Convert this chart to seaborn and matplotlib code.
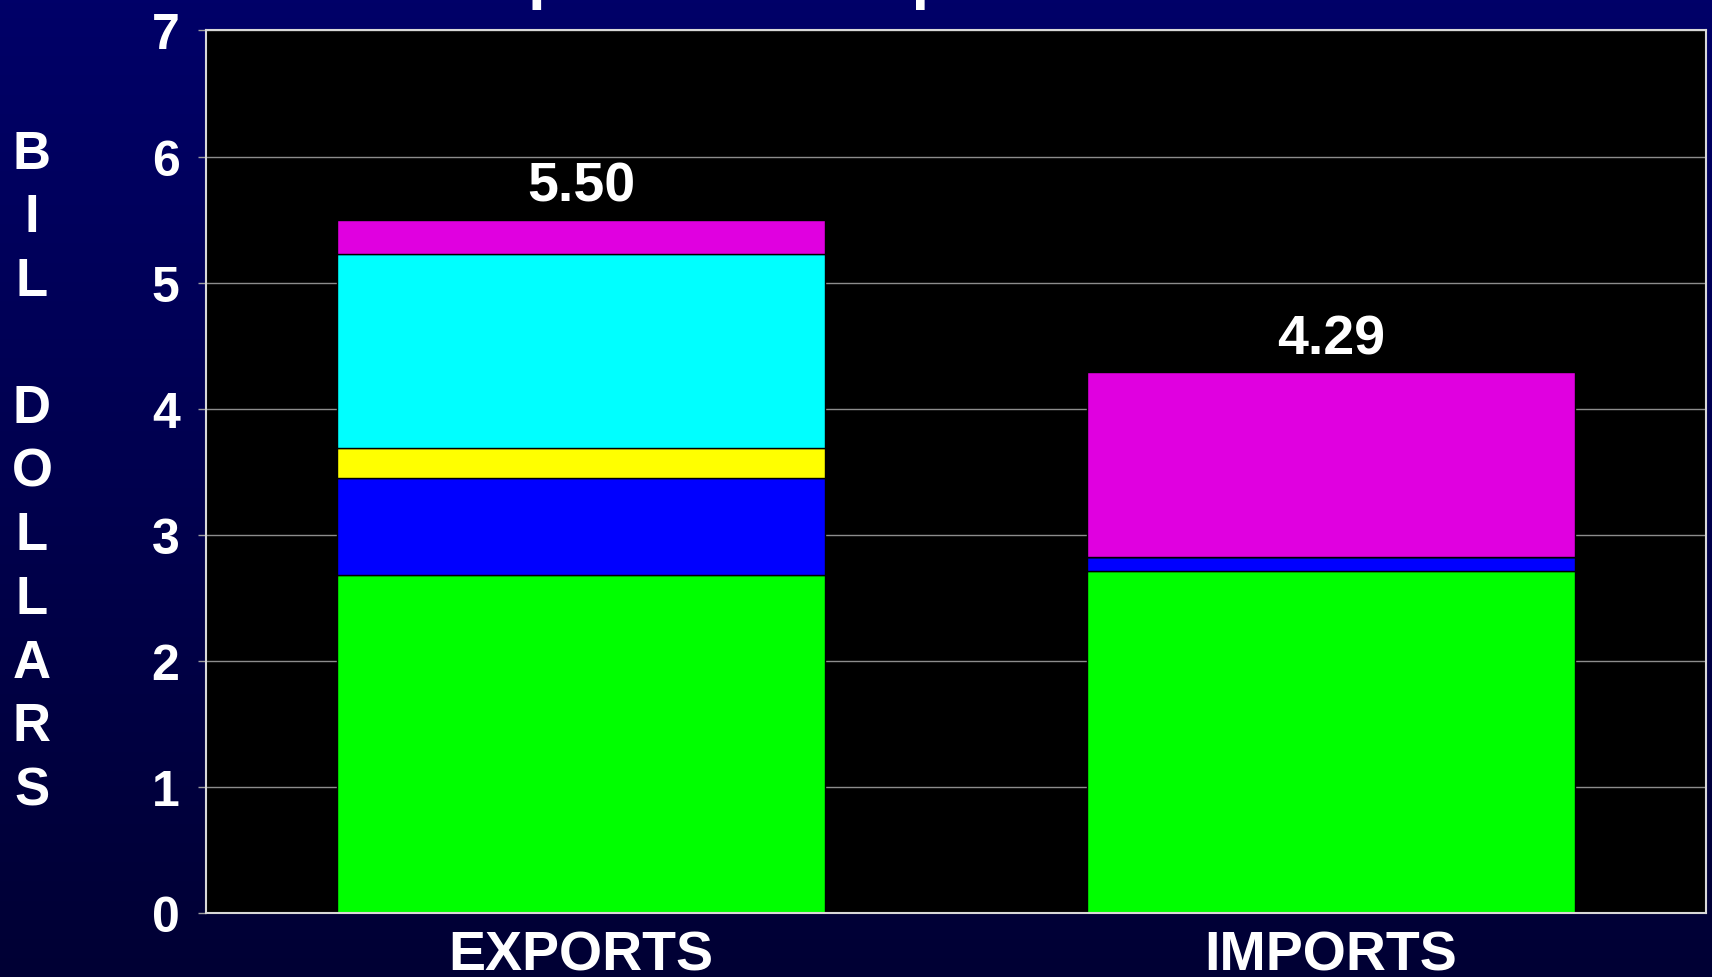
import matplotlib.pyplot as plt
import numpy as np
import seaborn as sns
from matplotlib.colors import LinearSegmentedColormap

categories = ["EXPORTS", "IMPORTS"]
green_vals = [2.68, 2.71]
blue_vals = [0.77, 0.11]
yellow_vals = [0.24, 0.00]
cyan_vals = [1.54, 0.00]
magenta_vals = [0.27, 1.47]

# stack order bottom -> top
layers = [
    (green_vals, "#00ff00"),
    (blue_vals, "#0000ff"),
    (yellow_vals, "#ffff00"),
    (cyan_vals, "#00ffff"),
    (magenta_vals, "#e000e0"),
]

sns.set_style("dark")
plt.rcParams["font.family"] = ["Liberation Sans", "DejaVu Sans"]
plt.rcParams["font.weight"] = "bold"
plt.rcParams["axes.labelweight"] = "bold"

fig = plt.figure(figsize=(17.12, 9.78), dpi=100)

# navy gradient slide background
bg = fig.add_axes([0, 0, 1, 1], zorder=0)
grad = np.linspace(0, 1, 256).reshape(-1, 1)
cmap = LinearSegmentedColormap.from_list("bg", ["#000068", "#000034"])
bg.imshow(grad, aspect="auto", cmap=cmap, extent=[0, 1, 0, 1])
bg.axis("off")

ax = fig.add_axes([0.1203, 0.0654, 0.8762, 0.9024], zorder=1)
ax.set_facecolor("black")

bottom = np.zeros(len(categories))
for vals, color in layers:
    sns.barplot(x=categories, y=vals, bottom=bottom.copy(), color=color,
                saturation=1, width=0.65, edgecolor="black", linewidth=1, ax=ax)
    bottom += np.array(vals)

# totals on top of each stack
for i, total in enumerate(bottom):
    ax.text(i, total + 0.15, f"{total:.2f}", ha="center", va="baseline",
            fontsize=40, color="white", fontweight="bold")

ax.set_ylim(0, 7)
ax.set_yticks(range(8))
ax.set_xlim(-0.5, 1.5)
ax.set_axisbelow(True)
ax.yaxis.grid(True, color="#8c8c8c", linewidth=1)
ax.xaxis.grid(False)

ax.tick_params(axis="y", length=6, width=1, color="#a0a0a0", labelcolor="white",
               labelsize=36, pad=13, left=True)
ax.tick_params(axis="x", length=0, labelcolor="white", labelsize=40, pad=12)

for s in ax.spines.values():
    s.set_visible(True)
    s.set_color("#d8d8d8")
    s.set_linewidth(1.5)

ax.set_xlabel("")
ax.set_ylabel("B\nI\nL\n\nD\nO\nL\nL\nA\nR\nS", rotation=0, fontsize=38,
              fontweight="bold", color="white", linespacing=1.35,
              va="center", ha="center")
ax.yaxis.set_label_coords(-0.116, 0.5)

# slide title sits mostly above the visible area
fig.text(450 / 1712, 1 + 3 / 978, "Exports and Imports", fontsize=46,
         color="white", ha="left", va="baseline", fontweight="bold")

fig.savefig("out.png", dpi=100)
